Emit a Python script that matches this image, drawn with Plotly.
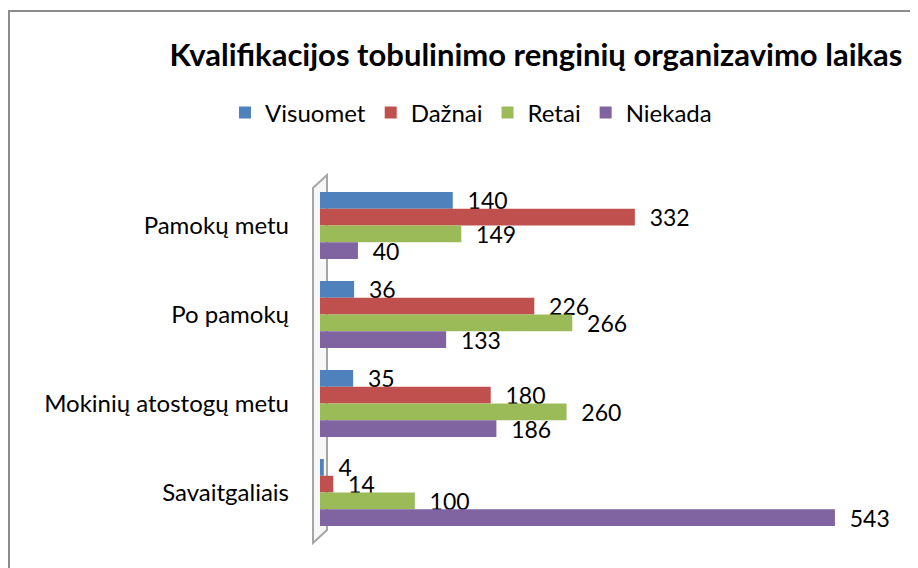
import plotly.graph_objects as go

categories = ["Pamokų metu", "Po pamokų", "Mokinių atostogų metu", "Savaitgaliais"]
series_names = ["Visuomet", "Dažnai", "Retai", "Niekada"]
visuomet = [140, 36, 35, 4]
daznai = [332, 226, 180, 14]
retai = [149, 266, 260, 100]
niekada = [40, 133, 186, 543]

colors = ["#4F81BD", "#C0504D", "#9BBB59", "#8064A2"]
FONT = "Lato"

# the page body has an 8px margin, so the figure starts at (8, 8) on screen
OFF = 8
W, H = 918 - OFF, 568 - OFF
L, R, T, B = 320 - OFF, 37 - OFF, 181 - OFF, 31


def px(x, y):
    """screen pixel -> paper coordinates"""
    x, y = x - OFF, y - OFF
    return (x - L) / (W - L - R), (H - B - y) / (H - T - B)


fig = go.Figure()
for name, values, color in zip(series_names, [visuomet, daznai, retai, niekada], colors):
    fig.add_trace(
        go.Bar(
            y=categories,
            x=values,
            name=name,
            orientation="h",
            marker={"color": color, "line": {"width": 0}},
            texttemplate="\u00a0\u00a0%{x}",
            textposition="outside",
            constraintext="none",
            textfont={"size": 23, "color": "#000000", "family": FONT},
            cliponaxis=False,
        )
    )

# 3D side wall behind the bars
pts = [px(313, 188), px(327, 175), px(327, 530), px(313, 543)]
path = "M " + " L ".join(f"{x},{y}" for x, y in pts) + " Z"
fig.add_shape(
    type="path",
    xref="paper",
    yref="paper",
    path=path,
    line={"color": "#A6A6A6", "width": 2},
    fillcolor="#F7F7F7",
    layer="below",
)

# chart border (top and left edges visible)
x0, y0 = px(9, 11)
x1, y1 = px(960, 620)
fig.add_shape(
    type="rect",
    xref="paper",
    yref="paper",
    x0=x0,
    y0=y0,
    x1=x1,
    y1=y1,
    line={"color": "#8C8C8C", "width": 2},
    layer="below",
)

lx, ly = px(225, 113)
fig.update_layout(
    width=W,
    height=H,
    barmode="group",
    bargap=0.247,
    bargroupgap=0,
    plot_bgcolor="white",
    paper_bgcolor="white",
    font={"family": FONT, "color": "#000000"},
    title={
        "text": "<b>Kvalifikacijos tobulinimo renginių organizavimo laikas</b>",
        "x": (536 - OFF) / W,
        "xanchor": "center",
        "y": 1 - (55 - OFF) / H,
        "yanchor": "middle",
        "font": {"size": 31, "family": FONT, "color": "#000000"},
    },
    legend={
        "orientation": "h",
        "x": lx,
        "xanchor": "left",
        "y": ly,
        "yanchor": "middle",
        "font": {"size": 24, "family": FONT},
        "traceorder": "normal",
        "itemwidth": 30,
    },
    margin={"l": L, "r": R, "t": T, "b": B, "pad": 0, "autoexpand": False},
    showlegend=True,
)
fig.update_xaxes(range=[0, 600], visible=False, fixedrange=True)
fig.update_yaxes(
    autorange="reversed",
    showline=False,
    showgrid=False,
    ticks="",
    ticklabelstandoff=30,
    tickfont={"size": 24, "family": FONT, "color": "#000000"},
)

fig.write_html("out.html")
